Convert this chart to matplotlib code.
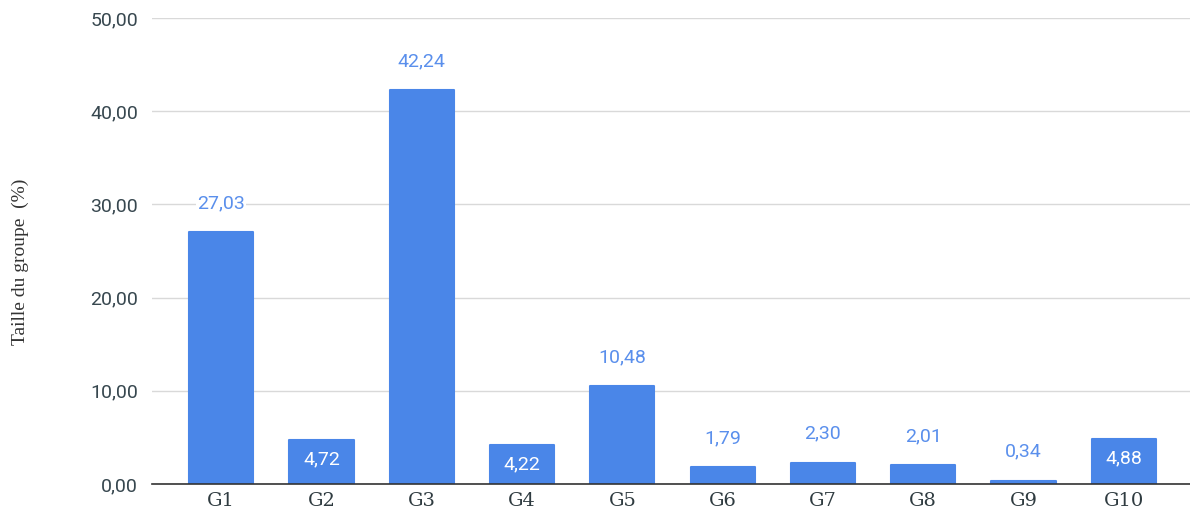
import matplotlib
matplotlib.use("Agg")
import matplotlib.pyplot as plt

categories = ["G1", "G2", "G3", "G4", "G5", "G6", "G7", "G8", "G9", "G10"]
values = [27.03, 4.72, 42.24, 4.22, 10.48, 1.79, 2.30, 2.01, 0.34, 4.88]
inside = [False, True, False, True, False, False, False, False, False, True]
yticks = [0, 10, 20, 30, 40, 50]

def fmt(v):
    return f"{v:.2f}".replace(".", ",")

fig = plt.figure(figsize=(11.9, 5.19), dpi=100)
ax = fig.add_axes([152/1190, 1 - 484/519, 1 - 152/1190, (484 - 18)/519])

x = list(range(len(categories)))
bars = ax.bar(x, values, width=0.64, color="#4a86e8", edgecolor="#4a86e8",
              linewidth=1.5, joinstyle="round", zorder=3)

for xi, v, ins in zip(x, values, inside):
    if ins:
        ax.annotate(fmt(v), (xi, v), xytext=(0, -14), textcoords="offset points",
                    ha="center", va="center", color="white", fontsize=14,
                    family="Roboto", zorder=4)
    else:
        ax.annotate(fmt(v), (xi, v), xytext=(0, 21), textcoords="offset points",
                    ha="center", va="center", color="#5a8fec", fontsize=14,
                    family="Roboto", zorder=4,
                    bbox=dict(boxstyle="square,pad=0.05", fc="white", ec="none"))

ax.set_xlim(-0.69, 9.66)
ax.set_ylim(0, 50)
ax.set_yticks(yticks)
ax.set_yticklabels([fmt(t) for t in yticks], family="Roboto", fontsize=14, color="#37474f")
ax.set_xticks(x)
ax.set_xticklabels(categories, family="DejaVu Serif", fontsize=14, color="#2f3b40")
ax.tick_params(axis="both", length=0)
ax.tick_params(axis="y", pad=10)
ax.tick_params(axis="x", pad=6)
ax.grid(axis="y", color="#d9d9d9", linewidth=1, zorder=0)
for s in ["top", "right", "left"]:
    ax.spines[s].set_visible(False)
ax.spines["bottom"].set_color("#333333")
ax.spines["bottom"].set_linewidth(1.2)
ax.spines["bottom"].set_zorder(5)

fig.text(20/1190, 1 - 262/519, "Taille du groupe  (%)", rotation=90, ha="center", va="center",
         family="Liberation Serif", fontsize=14, color="#333333")

fig.savefig("out.png", dpi=100, facecolor="white")
